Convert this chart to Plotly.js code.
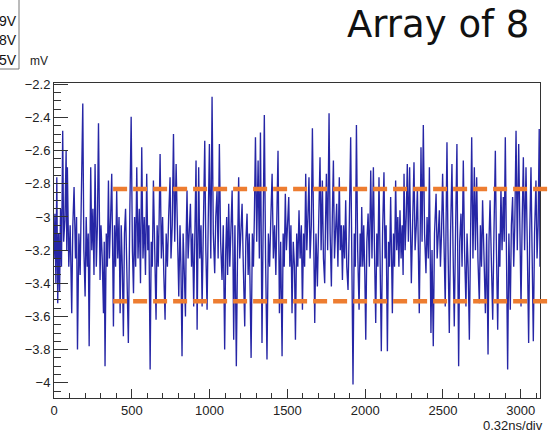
<!DOCTYPE html>
<html>
<head>
<meta charset="utf-8">
<script src="https://cdn.plot.ly/plotly-3.0.1.min.js"></script>
<style>html,body{margin:0;padding:0;background:#fff;}#chart{width:552px;height:433px;}</style>
</head>
<body>
<div id="chart"></div>
<script>
// Sample index (units of 0.32 ns)
var sampleX = [
0,6,12,18,24,30,36,42,48,56,62,70,78,82,86,95,104,114,121,129,138,145,151,160,168,176,185,192,200,207,214,220,226,236,243,250,257,264,272,279,286,296,302,310,318,323,328,336,343,350,356,364,371,377,382,389,396,403,410,418,425,432,439,446,453,460,468,478,487,496,504,511,518,525,532,540,548,556,564,572,580,588,596,603,610,618,625,632,639,647,656,663,670,676,682,690,698,706,714,721,729,737,746,752,760,768,776,785,793,802,810,816,823,830,838,845,850,855,862,870,877,884,891,898,906,913,920,925,930,937,945,952,960,969,976,984,991,999,1008,1016,1024,1033,1040,1048,1055,1063,1071,1080,1088,1097,1104,1110,1116,1123,1130,1138,1145,1150,1155,1163,1172,1180,1187,1194,1202,1209,1217,1226,1233,1241,1248,1255,1260,1267,1275,1282,1288,1295,1303,1312,1320,1327,1332,1337,1345,1352,1360,1369,1378,1386,1394,1402,1410,1418,1426,1433,1440,1449,1457,1466,1473,1480,1487,1494,1502,1509,1516,1523,1530,1538,1546,1552,1560,1567,1575,1582,1590,1597,1604,1611,1618,1625,1632,1639,1646,1654,1661,1668,1676,1684,1693,1701,1710,1717,1725,1732,1740,1745,1751,1759,1768,1775,1783,1789,1796,1803,1810,1817,1825,1834,1840,1847,1854,1861,1868,1875,1882,1890,1898,1907,1914,1922,1930,1937,1944,1952,1961,1968,1973,1978,1985,1991,1998,2004,2011,2019,2027,2036,2044,2053,2060,2068,2075,2082,2089,2096,2104,2112,2121,2128,2135,2143,2150,2157,2164,2170,2175,2182,2189,2196,2203,2210,2217,2224,2231,2238,2244,2250,2257,2264,2271,2278,2286,2292,2297,2305,2314,2321,2329,2336,2342,2348,2354,2359,2366,2374,2382,2391,2398,2406,2413,2418,2423,2430,2438,2446,2456,2463,2470,2477,2484,2491,2498,2506,2515,2520,2526,2533,2541,2549,2558,2565,2573,2581,2590,2595,2601,2608,2616,2623,2631,2639,2648,2655,2662,2670,2677,2685,2693,2702,2709,2717,2725,2734,2741,2748,2755,2763,2773,2781,2790,2796,2803,2811,2820,2828,2837,2844,2852,2860,2866,2873,2880,2888,2894,2901,2908,2916,2924,2933,2940,2948,2955,2962,2970,2978,2987,2994,3002,3009,3017,3025,3034,3042,3051,3058,3066,3073,3081,3089,3098,3105,3112,3119,3124
];
// Amplitude (mV)
var amplitudeMV = [
-3.25,-2.98,-3.40,-2.76,-3.52,-3.10,-3.45,-2.95,-3.30,-2.48,-3.15,-3.02,-2.60,-3.20,-2.70,-3.30,-3.05,-3.58,-3.05,-2.82,-3.25,-3.00,-3.80,-3.10,-3.35,-2.95,-2.315,-3.20,-3.48,-3.00,-3.30,-3.10,-3.78,-2.70,-3.20,-2.95,-3.35,-2.68,-3.30,-3.05,-2.435,-3.38,-3.05,-3.25,-3.58,-3.15,-3.90,-3.10,-3.30,-2.78,-3.25,-3.00,-2.74,-3.20,-3.66,-3.05,-3.30,-2.84,-3.25,-3.00,-3.58,-3.05,-3.30,-3.72,-3.10,-2.95,-3.35,-3.76,-3.00,-2.395,-3.20,-3.46,-3.00,-3.30,-2.70,-3.25,-2.95,-3.40,-2.58,-3.25,-3.00,-3.35,-2.74,-3.20,-3.05,-3.92,-3.15,-3.30,-2.78,-3.20,-3.62,-3.05,-3.30,-3.00,-2.62,-3.25,-3.00,-3.35,-3.62,-3.10,-3.30,-3.00,-2.76,-3.25,-3.05,-2.50,-3.15,-2.68,-3.20,-3.48,-3.05,-3.30,-3.84,-3.10,-3.35,-3.60,-3.10,-2.84,-3.25,-3.05,-2.92,-3.30,-3.10,-3.54,-3.05,-2.66,-3.68,-3.15,-2.70,-3.25,-3.05,-3.54,-3.10,-2.54,-3.20,-3.56,-3.05,-2.56,-3.25,-2.275,-3.10,-3.34,-3.00,-2.84,-3.25,-2.56,-3.15,-3.38,-3.05,-3.80,-3.20,-3.00,-3.35,-2.92,-3.30,-3.10,-2.84,-3.20,-3.74,-3.05,-3.90,-3.20,-2.76,-3.25,-3.05,-2.92,-3.30,-3.66,-3.15,-2.98,-3.35,-3.10,-3.40,-3.85,-3.10,-3.30,-3.00,-2.52,-3.15,-2.66,-3.25,-2.49,-3.10,-3.76,-3.00,-2.385,-3.25,-3.86,-3.10,-3.30,-3.00,-2.74,-3.25,-3.05,-3.35,-3.00,-2.60,-3.58,-3.15,-3.84,-3.10,-3.30,-2.86,-3.20,-3.05,-2.88,-3.30,-3.05,-3.58,-3.15,-3.30,-3.74,-3.10,-3.30,-2.96,-3.25,-3.05,-3.56,-3.10,-3.30,-2.74,-3.20,-3.00,-2.76,-3.25,-3.05,-2.465,-3.15,-3.64,-3.10,-3.42,-3.05,-2.64,-3.20,-2.78,-3.25,-3.40,-3.05,-2.74,-3.20,-2.375,-3.10,-3.42,-3.00,-2.66,-3.25,-3.05,-2.92,-3.30,-2.76,-3.20,-3.05,-3.38,-3.05,-3.25,-2.90,-3.30,-3.44,-3.05,-2.52,-3.20,-4.01,-3.10,-3.30,-2.445,-3.20,-3.56,-3.10,-3.30,-2.94,-3.30,-3.05,-3.35,-3.74,-3.15,-2.98,-3.30,-2.72,-3.25,-2.70,-3.20,-3.64,-3.10,-3.30,-2.76,-3.20,-3.81,-3.10,-2.73,-3.25,-3.05,-3.81,-3.15,-3.30,-2.88,-3.25,-3.58,-3.10,-3.30,-2.78,-3.20,-3.00,-3.30,-2.96,-3.25,-3.05,-3.35,-2.74,-3.20,-3.00,-2.68,-3.15,-2.70,-3.10,-3.40,-3.05,-2.67,-3.20,-3.05,-2.82,-3.30,-3.58,-3.10,-2.58,-3.15,-2.445,-3.10,-3.34,-3.00,-3.25,-2.70,-3.15,-3.70,-3.20,-3.78,-3.10,-2.86,-3.25,-3.05,-2.96,-3.30,-3.10,-2.74,-3.25,-3.54,-3.05,-2.55,-3.20,-3.70,-3.10,-2.68,-3.20,-3.66,-3.10,-2.56,-3.20,-3.90,-3.15,-2.98,-3.30,-2.66,-3.20,-3.54,-3.10,-3.30,-3.74,-3.10,-2.52,-3.25,-2.70,-3.20,-2.76,-3.25,-3.52,-3.05,-3.30,-2.90,-3.25,-3.58,-3.10,-3.83,-3.15,-2.90,-3.25,-3.62,-3.10,-2.60,-3.20,-3.68,-3.10,-3.30,-2.82,-3.20,-2.88,-3.15,-2.52,-3.20,-3.92,-3.10,-3.56,-3.05,-2.88,-3.30,-3.05,-2.48,-3.20,-2.56,-3.15,-3.54,-3.05,-2.64,-3.20,-2.70,-3.15,-3.76,-3.10,-2.70,-3.20,-3.75,-3.10,-2.78,-3.25,-3.05,-2.47,-3.30
];
// Reference levels (mV) and where they start (sample index)
var refLevels = [-2.832, -3.508];
var refStart = 380;
var legendLabels = ["9V", "8V", "5V"];
var yTickVals = [-2.2,-2.4,-2.6,-2.8,-3,-3.2,-3.4,-3.6,-3.8,-4];
var xTickVals = [0,500,1000,1500,2000,2500,3000];

var W = 552, H = 433, ML = 54, MR = 12, MT = 83, MB = 35;
var PW = W - ML - MR, PH = H - MT - MB;
function px2paperX(p){ return (p - ML) / PW; }
function px2paperY(p){ return (H - MB - p) / PH; }

var xRange = [0, 3124];
var trace = {
  x: sampleX, y: amplitudeMV, type: 'scatter', mode: 'lines',
  line: {color: '#2626a6', width: 1.35}, hoverinfo: 'none', showlegend: false
};

var shapes = refLevels.map(function(v){
  return {type: 'line', xref: 'paper', yref: 'y',
    x0: (refStart - xRange[0]) / (xRange[1] - xRange[0]), x1: px2paperX(W + 5), y0: v, y1: v,
    line: {color: '#ed7d31', width: 4.5, dash: '14px,6px'}, layer: 'above'};
});
// partial legend box at the top-left edge
shapes.push({type: 'rect', xref: 'paper', yref: 'paper',
  x0: px2paperX(-20), x1: px2paperX(19), y0: px2paperY(69), y1: px2paperY(-10),
  line: {color: '#777', width: 1}, fillcolor: 'rgba(0,0,0,0)'});

var legendY = [21, 40, 60];
var annotations = legendLabels.map(function(t, i){
  return {text: t, xref: 'paper', yref: 'paper', x: px2paperX(19), y: px2paperY(legendY[i]),
    xanchor: 'right', yanchor: 'middle', showarrow: false,
    font: {family: 'Liberation Sans, Arial, sans-serif', size: 14, color: '#111'}};
});
annotations.push({text: 'mV', xref: 'paper', yref: 'paper', x: px2paperX(39), y: px2paperY(61),
  xanchor: 'center', yanchor: 'middle', showarrow: false,
  font: {family: 'Liberation Sans, Arial, sans-serif', size: 12, color: '#222'}});
annotations.push({text: '0.32ns/div', xref: 'paper', yref: 'paper', x: px2paperX(545), y: px2paperY(425),
  xanchor: 'right', yanchor: 'middle', showarrow: false,
  font: {family: 'Liberation Sans, Arial, sans-serif', size: 13, color: '#222'}});
annotations.push({text: 'Array of 8', xref: 'paper', yref: 'paper', x: px2paperX(345), y: px2paperY(1),
  xanchor: 'left', yanchor: 'top', showarrow: false,
  font: {family: 'DejaVu Sans, Verdana, sans-serif', size: 37, color: '#111'}});

var layout = {
  width: W, height: H,
  margin: {l: ML, r: MR, t: MT, b: MB, pad: 0},
  paper_bgcolor: '#fff', plot_bgcolor: '#fff',
  font: {family: 'Liberation Sans, Arial, sans-serif', size: 13, color: '#222'},
  xaxis: {range: xRange, tickvals: xTickVals, ticks: 'inside', ticklen: 9, tickcolor: '#333',
    showgrid: false, zeroline: false, showline: true, linecolor: '#333', linewidth: 1, mirror: true,
    tickfont: {size: 13, color: '#222'},
    minor: {dtick: 100, ticks: 'inside', ticklen: 5, tickcolor: '#333', showgrid: false}},
  yaxis: {range: [-4.092, -2.192], tickvals: yTickVals, ticks: 'inside', ticklen: 14, tickcolor: '#333',
    showgrid: false, zeroline: false, showline: true, linecolor: '#333', linewidth: 1, mirror: true,
    tickfont: {size: 13, color: '#222'},
    minor: {dtick: 0.05, ticks: 'inside', ticklen: 7, tickcolor: '#333', showgrid: false}},
  shapes: shapes,
  annotations: annotations,
  showlegend: false
};

Plotly.newPlot('chart', [trace], layout, {staticPlot: true, displayModeBar: false});
</script>
</body>
</html>
